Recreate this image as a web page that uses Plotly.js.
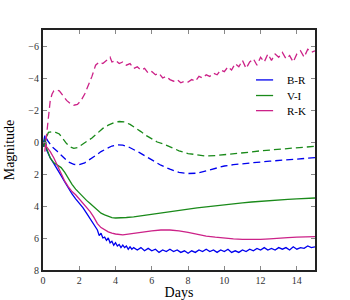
<!DOCTYPE html>
<html><head><meta charset="utf-8">
<script src="https://cdn.plot.ly/plotly-3.0.1.min.js"></script>
<style>html,body{margin:0;padding:0;background:#fff}#c{width:350px;height:300px}</style>
</head><body><div id="c"></div>
<script>
// Solid curves
const brDays = [0.0,0.1,0.2,0.4,0.6,0.8,1.0,1.2,1.4,1.6,1.8,2.0,2.2,2.4,2.6,2.8,2.9,3.0,3.1,3.2,3.3,3.4,3.5,3.6,3.7,3.8,3.9,4.0,4.1,4.2,4.3,4.4,4.5,4.6,4.7,4.8,4.9,5.0,5.2,5.4,5.6,5.8,6.0,6.2,6.4,6.6,6.8,7.0,7.2,7.4,7.6,7.8,8.0,8.2,8.4,8.6,8.8,9.0,9.2,9.4,9.6,9.8,10.0,10.2,10.4,10.6,10.8,11.0,11.2,11.4,11.6,11.8,12.0,12.2,12.4,12.6,12.8,13.0,13.2,13.4,13.6,13.8,14.0,14.2,14.4,14.6,14.8,15.0];
const brMag = [0.2,-0.4,0.5,1.0,1.35,1.7,2.1,2.5,2.9,3.25,3.55,3.8,4.1,4.45,4.8,5.1,5.3,5.5,5.85,5.7,6.0,5.95,6.15,6.0,6.3,6.2,6.45,6.3,6.5,6.4,6.6,6.45,6.6,6.5,6.7,6.55,6.7,6.6,6.75,6.6,6.8,6.65,6.8,6.7,6.9,6.75,6.85,6.7,6.85,6.75,6.9,6.8,6.95,6.8,6.9,6.75,6.85,6.7,6.85,6.75,6.9,6.75,6.85,6.7,6.9,6.8,6.9,6.75,6.85,6.7,6.8,6.65,6.75,6.6,6.75,6.65,6.75,6.6,6.7,6.6,6.75,6.55,6.7,6.6,6.65,6.5,6.6,6.55];

const viDays = [0.0,0.1,0.2,0.4,0.6,0.8,1.0,1.2,1.4,1.6,1.8,2.0,2.2,2.4,2.6,2.8,3.0,3.2,3.4,3.6,3.8,4.0,4.3,4.6,5.0,5.5,6.0,6.5,7.0,7.5,8.0,8.5,9.0,9.5,10.0,10.5,11.0,11.5,12.0,12.5,13.0,13.5,14.0,14.5,15.0];
const viMag = [0.3,-0.2,0.4,1.0,1.3,1.45,1.6,1.9,2.3,2.65,2.95,3.2,3.45,3.65,3.85,4.05,4.25,4.45,4.55,4.65,4.72,4.75,4.75,4.72,4.68,4.6,4.5,4.4,4.33,4.25,4.2,4.12,4.05,3.98,3.9,3.85,3.8,3.75,3.7,3.65,3.6,3.58,3.55,3.52,3.5];

const rkDays = [0.0,0.1,0.2,0.4,0.6,0.8,1.0,1.2,1.4,1.6,1.8,2.0,2.2,2.4,2.6,2.8,3.0,3.2,3.4,3.6,3.8,4.0,4.4,4.8,5.2,5.6,6.0,6.5,7.0,7.5,8.0,8.5,9.0,9.5,10.0,10.5,11.0,11.5,12.0,12.5,13.0,13.5,14.0,14.5,15.0];
const rkMag = [0.1,0.0,0.3,0.6,1.0,1.5,2.0,2.45,2.8,3.1,3.3,3.55,3.8,4.05,4.35,4.7,5.1,5.35,5.5,5.62,5.7,5.75,5.8,5.75,5.7,5.62,5.55,5.5,5.5,5.55,5.65,5.78,5.88,5.95,6.02,6.06,6.08,6.1,6.08,6.05,6.0,5.98,5.95,5.93,5.92];

// Dashed curves
const brDashDays = [0.05,0.15,0.25,0.5,0.8,1.1,1.4,1.7,2.0,2.3,2.6,2.9,3.2,3.5,3.8,4.1,4.4,4.7,5.0,5.3,5.6,6.0,6.5,7.0,7.5,8.0,8.5,9.0,9.5,10.0,10.5,11.0,11.5,12.0,12.5,13.0,13.5,14.0,14.5,15.0];
const brDashMag = [0.3,-0.3,-0.1,0.3,0.6,0.95,1.25,1.4,1.42,1.3,1.1,0.85,0.6,0.4,0.25,0.18,0.2,0.3,0.45,0.65,0.85,1.1,1.45,1.7,1.9,1.97,1.95,1.8,1.65,1.5,1.42,1.35,1.3,1.25,1.2,1.15,1.1,1.05,1.0,0.98];

const viDashDays = [0.05,0.15,0.3,0.5,0.7,0.9,1.1,1.3,1.5,1.7,1.9,2.1,2.4,2.7,3.0,3.3,3.6,3.9,4.2,4.5,4.8,5.1,5.4,5.7,6.0,6.3,6.6,7.0,7.5,8.0,8.5,9.0,9.5,10.0,10.5,11.0,11.5,12.0,12.5,13.0,13.5,14.0,14.5,15.0];
const viDashMag = [0.3,-0.2,-0.6,-0.65,-0.6,-0.5,-0.2,0.1,0.3,0.4,0.35,0.2,0.0,-0.25,-0.55,-0.85,-1.05,-1.2,-1.28,-1.25,-1.1,-0.9,-0.65,-0.4,-0.2,0.0,0.1,0.3,0.55,0.72,0.82,0.88,0.85,0.8,0.75,0.68,0.62,0.55,0.5,0.45,0.4,0.35,0.3,0.27];

const rkDashDays = [0.1,0.2,0.3,0.4,0.5,0.6,0.7,0.9,1.1,1.3,1.5,1.7,1.9,2.1,2.3,2.5,2.7,2.9,3.1,3.3,3.5,3.7,3.8,4.0,4.2,4.4,4.6,4.8,5.0,5.2,5.4,5.6,5.8,6.0,6.2,6.4,6.6,6.8,7.0,7.2,7.4,7.6,7.8,8.0,8.2,8.4,8.6,8.8,9.0,9.2,9.4,9.6,9.8,10.0,10.2,10.4,10.6,10.8,11.0,11.2,11.4,11.6,11.8,12.0,12.2,12.4,12.6,12.8,13.0,13.2,13.4,13.6,13.8,14.0,14.2,14.4,14.6,14.8,15.0];
const rkDashMag = [0.6,-0.5,-1.8,-2.6,-3.0,-3.2,-3.25,-3.2,-2.9,-2.6,-2.4,-2.3,-2.35,-2.6,-3.0,-3.5,-4.1,-4.8,-5.0,-4.9,-5.1,-5.3,-5.0,-5.1,-4.9,-5.0,-4.8,-4.9,-4.6,-4.7,-4.5,-4.6,-4.3,-4.4,-4.2,-4.3,-4.0,-4.1,-3.9,-3.8,-3.9,-3.7,-3.8,-3.75,-3.9,-3.8,-4.1,-4.0,-4.2,-4.1,-4.3,-4.2,-4.5,-4.4,-4.7,-4.5,-4.9,-4.7,-5.1,-4.6,-5.0,-5.2,-4.8,-5.3,-5.0,-5.5,-5.1,-5.5,-5.3,-5.6,-5.2,-5.4,-5.0,-5.5,-5.7,-5.3,-5.8,-5.6,-5.7];

const seriesNames = ['B-R','V-I','R-K'];
const xTicks = [0,2,4,6,8,10,12,14];
const yTicks = [-6,-4,-2,0,2,4,6,8];

const cBlue = '#0000ee', cGreen = '#1a8a1a', cPink = '#cc2288';
const colors = [cBlue, cGreen, cPink];
const serif = '"Liberation Serif", "Times New Roman", "DejaVu Serif", serif';

const traces = [
  {x: brDays, y: brMag, name: seriesNames[0], mode:'lines', line:{color:cBlue, width:1.3}},
  {x: viDays, y: viMag, name: seriesNames[1], mode:'lines', line:{color:cGreen, width:1.3}},
  {x: rkDays, y: rkMag, name: seriesNames[2], mode:'lines', line:{color:cPink, width:1.3}},
  {x: brDashDays, y: brDashMag, showlegend:false, mode:'lines', line:{color:cBlue, width:1.3, dash:'7px,4px'}},
  {x: viDashDays, y: viDashMag, showlegend:false, mode:'lines', line:{color:cGreen, width:1.3, dash:'7px,4px'}},
  {x: rkDashDays, y: rkDashMag, showlegend:false, mode:'lines', line:{color:cPink, width:1.3, dash:'7px,4px'}}
];

const axisCommon = {
  showline:true, mirror:'ticks', linecolor:'#222', linewidth:2,
  ticks:'inside', ticklen:4, tickcolor:'#888', tickwidth:1,
  showgrid:false, zeroline:false,
  tickfont:{family:serif, size:10, color:'#333'}
};

// manual legend (key lines + labels) in paper coordinates
const legY = [0.792, 0.727, 0.664];
const shapes = seriesNames.map((n,i)=>({type:'line', xref:'paper', yref:'paper',
  x0:0.783, x1:0.846, y0:legY[i], y1:legY[i], line:{color:colors[i], width:1.3}}));
const annotations = seriesNames.map((n,i)=>({xref:'paper', yref:'paper', x:0.89, y:legY[i],
  xanchor:'left', yanchor:'middle', text:n, showarrow:false,
  font:{family:serif, size:11, color:'#000'}}));

const layout = {
  width:350, height:300,
  margin:{l:43, r:35, t:30, b:30},
  paper_bgcolor:'#fff', plot_bgcolor:'#fff',
  font:{family:serif, color:'#000'},
  xaxis: Object.assign({}, axisCommon, {range:[0,15], tickvals:xTicks,
    title:{text:'Days', font:{family:serif, size:14}, standoff:2}}),
  yaxis: Object.assign({}, axisCommon, {range:[8,-7], tickvals:yTicks,
    title:{text:'Magnitude', font:{family:serif, size:14}, standoff:10}}),
  showlegend:false,
  shapes: shapes,
  annotations: annotations
};

Plotly.newPlot('c', traces, layout, {displayModeBar:false, staticPlot:true});
</script></body></html>
